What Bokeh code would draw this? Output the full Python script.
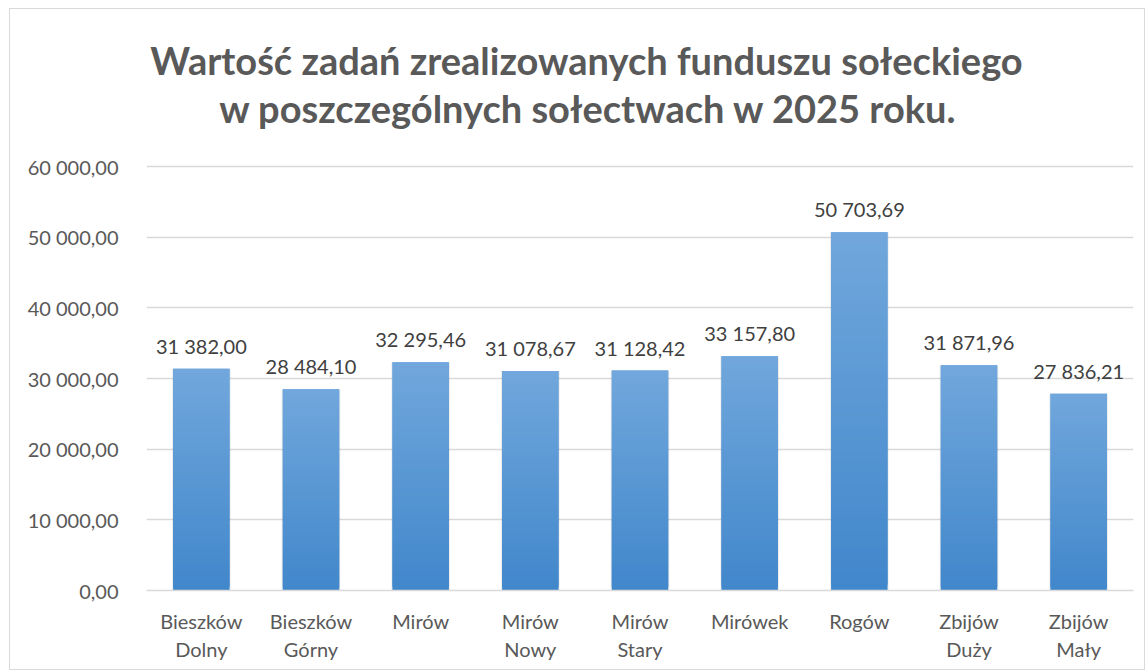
from bokeh.plotting import figure
from bokeh.models import Range1d, FixedTicker, Label, ColumnDataSource, LabelSet
from bokeh.core.properties import value
from bokeh.embed import file_html
from bokeh.resources import INLINE

categories = ["Bieszków\nDolny", "Bieszków\nGórny", "Mirów", "Mirów\nNowy", "Mirów\nStary",
              "Mirówek", "Rogów", "Zbijów\nDuży", "Zbijów\nMały"]
values = [31382.00, 28484.10, 32295.46, 31078.67, 31128.42, 33157.80, 50703.69, 31871.96, 27836.21]
y_ticks = [0, 10000, 20000, 30000, 40000, 50000, 60000]
title_line1 = "Wartość zadań zrealizowanych funduszu sołeckiego"
title_line2 = "w poszczególnych sołectwach w 2025 roku."

FONT = "Lato"
GREY = "#595959"


def pl(v):
    return f"{v:,.2f}".replace(",", " ").replace(".", ",")


idx = list(range(len(categories)))

H = 662
TOP, BOTTOM = 10, 81
AXIS_PX = H - 157 - BOTTOM          # pixels that the 0..60000 axis occupies
y_max = y_ticks[-1] * (H - TOP - BOTTOM) / AXIS_PX   # frame extends up to hold the title

p = figure(x_range=Range1d(-0.5, len(categories) - 0.5), y_range=Range1d(0, y_max),
           width=1136, height=H, output_backend="svg", toolbar_location=None,
           min_border_left=136, min_border_right=13, min_border_bottom=BOTTOM, min_border_top=TOP)
p.margin = (8, 0, 0, 9)
p.styles = {"border": "1px solid #d9d9d9"}
p.outline_line_color = None

# gradient bars: overlapping slices with interpolated colours (top lighter, bottom darker)
N = 60
top_c = (0x71, 0xa7, 0xdc)
bot_c = (0x41, 0x87, 0xcb)
xs, bots, tops, cols = [], [], [], []
for i_c, v in zip(idx, values):
    for i in range(N):
        f = (i + 0.5) / N
        rgb = tuple(int(round(b + (t - b) * f)) for t, b in zip(top_c, bot_c))
        xs.append(i_c)
        bots.append(v * i / N)
        tops.append(v * min(i + 2, N) / N)
        cols.append("#%02x%02x%02x" % rgb)

# soft shadow
p.vbar(x=idx, top=values, width=0.535, fill_color="#000000", fill_alpha=0.07, line_color=None)
p.vbar(x=xs, bottom=bots, top=tops, width=0.515, fill_color=cols, line_color=None)

src = ColumnDataSource(dict(x=idx, y=values, t=[pl(v) for v in values]))
p.add_layout(LabelSet(x="x", y="y", text="t", source=src, text_align="center",
                      text_baseline="bottom", y_offset=11, text_font=value(FONT),
                      text_font_size="20px", text_color="#404040"))

p.yaxis.ticker = FixedTicker(ticks=y_ticks)
p.yaxis.major_label_overrides = {t: pl(t) for t in y_ticks}
p.yaxis.axis_line_color = None
p.yaxis.major_tick_line_color = None
p.yaxis.minor_tick_line_color = None
p.yaxis.major_label_standoff = 22
p.yaxis.major_label_text_font = FONT
p.yaxis.major_label_text_font_size = "20px"
p.yaxis.major_label_text_color = GREY

p.xaxis.ticker = FixedTicker(ticks=idx)
p.xaxis.major_label_overrides = dict(zip(idx, categories))
p.xaxis.axis_line_color = "#d9d9d9"
p.xaxis.axis_line_width = 1.5
p.xaxis.major_tick_line_color = None
p.xaxis.minor_tick_line_color = None
p.xaxis.major_label_standoff = 12
p.xaxis.major_label_text_font = FONT
p.xaxis.major_label_text_font_size = "20px"
p.xaxis.major_label_text_color = GREY

p.xgrid.grid_line_color = None
p.ygrid.grid_line_color = "#d9d9d9"
p.ygrid.grid_line_width = 1.5

# titles positioned in screen units relative to the plot frame (bottom-left origin)
for txt, sx, sy in [(title_line1, 440, 531), (title_line2, 442, 483)]:
    p.add_layout(Label(text=txt, x=sx, y=sy, x_units="screen", y_units="screen",
                       text_align="center", text_baseline="alphabetic",
                       text_font=FONT, text_font_size="38px", text_font_style="bold",
                       text_color=GREY))

open("out.html", "w").write(file_html(p, INLINE))
